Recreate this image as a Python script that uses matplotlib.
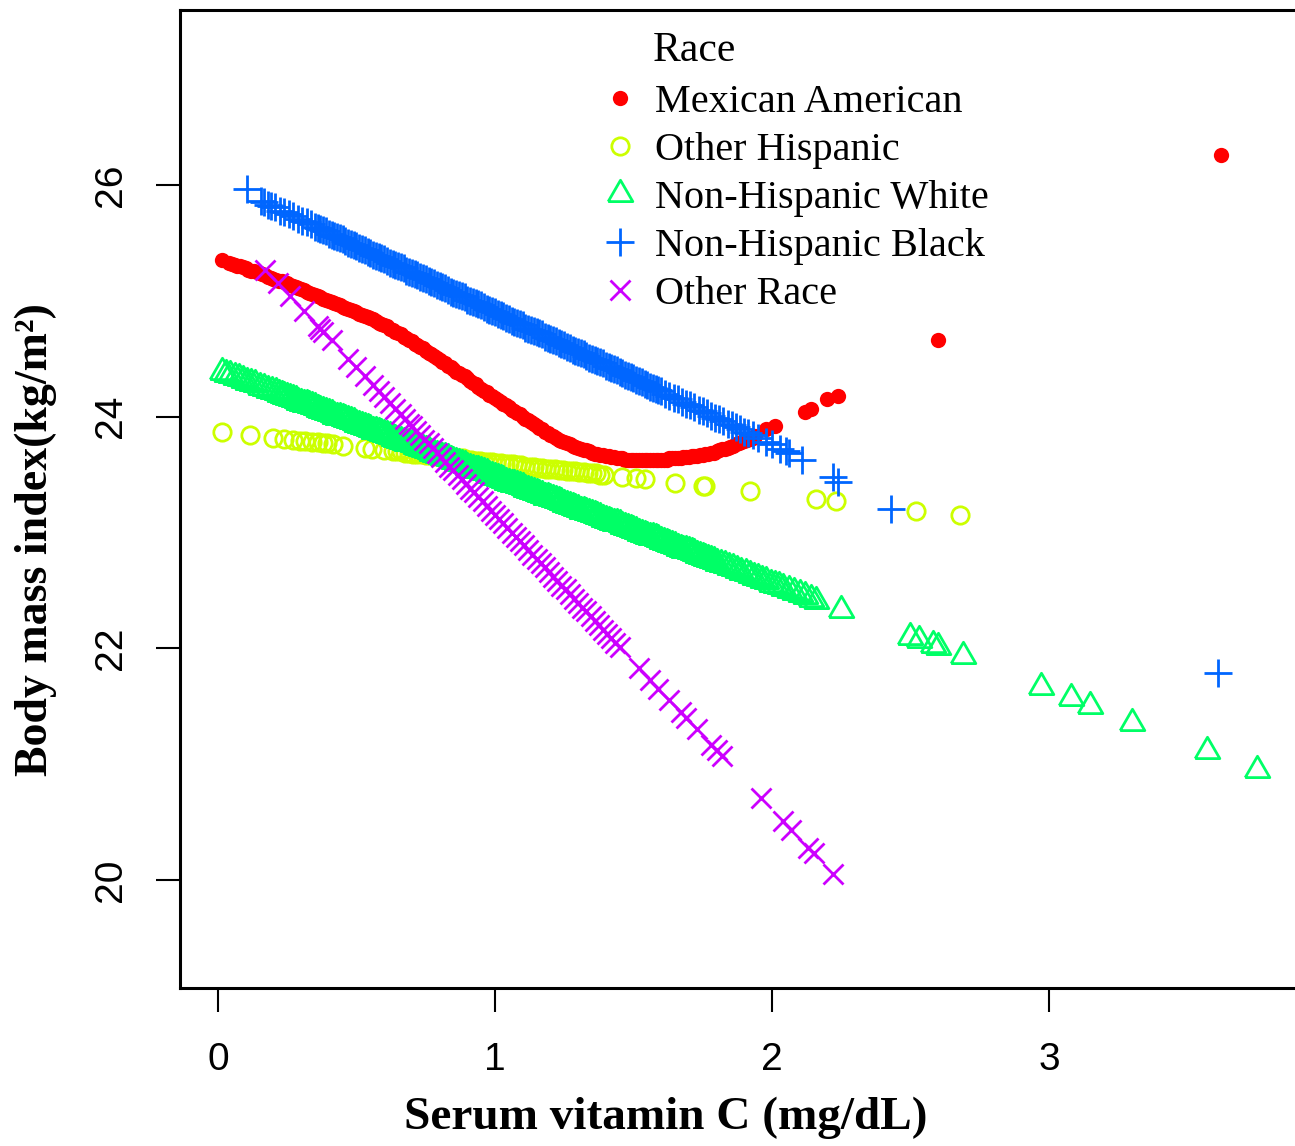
import numpy as np
import matplotlib
matplotlib.use('Agg')
import matplotlib.pyplot as plt
from matplotlib.lines import Line2D

races = ["Mexican American", "Other Hispanic", "Non-Hispanic White",
         "Non-Hispanic Black", "Other Race"]
colors = ["#FF0000", "#CCFF00", "#00FF66", "#0066FF", "#CC00FF"]

# Mexican American
mex_x = [0.015,
         0.04, 0.05, 0.06, 0.07, 0.08, 0.09, 0.10,
         0.11, 0.12, 0.13, 0.14, 0.15, 0.16, 0.17, 0.18, 0.19, 0.20,
         0.21, 0.22, 0.23, 0.24, 0.25, 0.26, 0.27, 0.28, 0.29, 0.30,
         0.31, 0.32, 0.33, 0.34, 0.35, 0.36, 0.37, 0.38, 0.39, 0.40,
         0.41, 0.42, 0.43, 0.44, 0.45, 0.46, 0.47, 0.48, 0.49, 0.50,
         0.51, 0.52, 0.53, 0.54, 0.55, 0.56, 0.57, 0.58, 0.59, 0.60,
         0.61, 0.62, 0.63, 0.64, 0.65, 0.66, 0.67, 0.68, 0.69, 0.70,
         0.71, 0.72, 0.73, 0.74, 0.75, 0.76, 0.77, 0.78, 0.79, 0.80,
         0.81, 0.82, 0.83, 0.84, 0.85, 0.86, 0.87, 0.88, 0.89, 0.90,
         0.91, 0.92, 0.93, 0.94, 0.95, 0.96, 0.97, 0.98, 0.99, 1.00,
         1.01, 1.02, 1.03, 1.04, 1.05, 1.06, 1.07, 1.08, 1.09, 1.10,
         1.11, 1.12, 1.13, 1.14, 1.15, 1.16, 1.17, 1.18, 1.19, 1.20,
         1.21, 1.22, 1.23, 1.24, 1.25, 1.26, 1.27, 1.28, 1.29, 1.30,
         1.31, 1.32, 1.33, 1.34, 1.35, 1.36, 1.37, 1.38, 1.39, 1.40,
         1.41, 1.42, 1.43, 1.44, 1.45, 1.46, 1.47, 1.48, 1.49, 1.50,
         1.51, 1.52, 1.53, 1.54, 1.55, 1.56, 1.57, 1.58, 1.59, 1.60,
         1.61, 1.62, 1.63, 1.64, 1.65, 1.66, 1.67, 1.68, 1.69, 1.70,
         1.71, 1.72, 1.73, 1.74, 1.75, 1.76, 1.77, 1.78, 1.79, 1.80,
         1.81, 1.82, 1.83, 1.84, 1.85, 1.86, 1.87, 1.88, 1.89, 1.90,
         1.91, 1.92, 1.93, 1.94,
         1.98, 2.01, 2.12, 2.14, 2.20, 2.24, 2.60, 3.62]
mex_y = [25.35,
         25.33, 25.32, 25.31, 25.30, 25.30, 25.29, 25.28,
         25.27, 25.26, 25.26, 25.25, 25.24, 25.23, 25.22, 25.21, 25.20, 25.19,
         25.18, 25.17, 25.17, 25.16, 25.15, 25.14, 25.13, 25.12, 25.11, 25.10,
         25.09, 25.08, 25.07, 25.06, 25.05, 25.04, 25.03, 25.02, 25.01, 25.00,
         24.99, 24.98, 24.97, 24.96, 24.95, 24.94, 24.93, 24.92, 24.91, 24.90,
         24.89, 24.88, 24.87, 24.86, 24.85, 24.84, 24.83, 24.81, 24.80, 24.79,
         24.78, 24.76, 24.75, 24.73, 24.72, 24.71, 24.69, 24.68, 24.66, 24.65,
         24.63, 24.62, 24.60, 24.59, 24.57, 24.55, 24.54, 24.52, 24.51, 24.49,
         24.47, 24.46, 24.44, 24.43, 24.41, 24.39, 24.38, 24.36, 24.35, 24.33,
         24.31, 24.29, 24.28, 24.26, 24.24, 24.22, 24.21, 24.19, 24.18, 24.16,
         24.14, 24.13, 24.11, 24.10, 24.08, 24.06, 24.05, 24.03, 24.02, 24.00,
         23.98, 23.97, 23.95, 23.94, 23.92, 23.90, 23.89, 23.87, 23.86, 23.84,
         23.83, 23.82, 23.80, 23.79, 23.78, 23.77, 23.76, 23.75, 23.74, 23.73,
         23.72, 23.71, 23.71, 23.70, 23.69, 23.68, 23.68, 23.67, 23.67, 23.66,
         23.66, 23.65, 23.65, 23.64, 23.64, 23.64, 23.63, 23.63, 23.63, 23.63,
         23.63, 23.63, 23.63, 23.63, 23.63, 23.63, 23.63, 23.63, 23.63, 23.63,
         23.63, 23.63, 23.64, 23.64, 23.64, 23.64, 23.64, 23.65, 23.65, 23.65,
         23.66, 23.66, 23.66, 23.67, 23.67, 23.68, 23.68, 23.69, 23.69, 23.70,
         23.71, 23.72, 23.72, 23.73, 23.74, 23.75, 23.76, 23.77, 23.78, 23.79,
         23.80, 23.81, 23.82, 23.83,
         23.89, 23.92, 24.04, 24.07, 24.15, 24.18, 24.66, 26.26]

# Other Hispanic
oth_x = [0.015, 0.115, 0.20, 0.24, 0.27, 0.295, 0.315, 0.34, 0.36, 0.38,
         0.395, 0.415, 0.45, 0.53, 0.555, 0.60,
         0.63, 0.645, 0.66, 0.675, 0.69, 0.705, 0.72, 0.735, 0.75, 0.765,
         0.78, 0.795, 0.81, 0.825, 0.84, 0.855, 0.87, 0.885, 0.90, 0.915,
         0.93, 0.945, 0.96, 0.975, 0.99, 1.005, 1.02, 1.035, 1.05, 1.065,
         1.08, 1.095, 1.11, 1.125, 1.14, 1.155, 1.17, 1.185, 1.20, 1.215,
         1.23, 1.245, 1.26, 1.275, 1.29, 1.305, 1.32, 1.335, 1.35, 1.365,
         1.38, 1.395,
         1.46, 1.51, 1.54, 1.65, 1.75, 1.76, 1.92, 2.16, 2.23, 2.52, 2.68]
oth_y = [23.87, 23.84, 23.82, 23.81, 23.80, 23.79, 23.79, 23.78, 23.78, 23.77,
         23.77, 23.76, 23.75, 23.73, 23.72, 23.71,
         23.70, 23.70, 23.70, 23.69, 23.69, 23.68, 23.68, 23.68, 23.67, 23.67,
         23.66, 23.66, 23.66, 23.65, 23.65, 23.64, 23.64, 23.64, 23.63, 23.63,
         23.62, 23.62, 23.61, 23.61, 23.61, 23.60, 23.60, 23.59, 23.59, 23.59,
         23.58, 23.58, 23.57, 23.57, 23.57, 23.56, 23.56, 23.55, 23.55, 23.55,
         23.54, 23.54, 23.53, 23.53, 23.53, 23.52, 23.52, 23.51, 23.51, 23.51,
         23.50, 23.50,
         23.48, 23.47, 23.46, 23.43, 23.40, 23.40, 23.36, 23.29, 23.27, 23.19, 23.15]

# Non-Hispanic White
whi_x = [0.015, 0.03, 0.045, 0.06, 0.075, 0.09, 0.105, 0.12, 0.135, 0.15,
         0.165, 0.18, 0.195,
         0.21, 0.22, 0.23, 0.24, 0.25, 0.26, 0.27, 0.28, 0.29, 0.30,
         0.31, 0.32, 0.33, 0.34, 0.35, 0.36, 0.37, 0.38, 0.39, 0.40,
         0.41, 0.42, 0.43, 0.44, 0.45, 0.46, 0.47, 0.48, 0.49, 0.50,
         0.51, 0.52, 0.53, 0.54, 0.55, 0.56, 0.57, 0.58, 0.59, 0.60,
         0.61, 0.62, 0.63, 0.64, 0.65, 0.66, 0.67, 0.68, 0.69, 0.70,
         0.71, 0.72, 0.73, 0.74, 0.75, 0.76, 0.77, 0.78, 0.79, 0.80,
         0.81, 0.82, 0.83, 0.84, 0.85, 0.86, 0.87, 0.88, 0.89, 0.90,
         0.91, 0.92, 0.93, 0.94, 0.95, 0.96, 0.97, 0.98, 0.99, 1.00,
         1.01, 1.02, 1.03, 1.04, 1.05, 1.06, 1.07, 1.08, 1.09, 1.10,
         1.11, 1.12, 1.13, 1.14, 1.15, 1.16, 1.17, 1.18, 1.19, 1.20,
         1.21, 1.22, 1.23, 1.24, 1.25, 1.26, 1.27, 1.28, 1.29, 1.30,
         1.31, 1.32, 1.33, 1.34, 1.35, 1.36, 1.37, 1.38, 1.39, 1.40,
         1.41, 1.42, 1.43, 1.44, 1.45, 1.46, 1.47, 1.48, 1.49, 1.50,
         1.51, 1.52, 1.53, 1.54, 1.55, 1.56, 1.57, 1.58, 1.59, 1.60,
         1.61, 1.62, 1.63, 1.64, 1.65, 1.66, 1.67, 1.68, 1.69, 1.70,
         1.71, 1.72, 1.73, 1.74, 1.75, 1.76, 1.77, 1.78, 1.79, 1.80,
         1.815, 1.83, 1.845, 1.86, 1.875, 1.89, 1.905, 1.92, 1.935, 1.95,
         1.965, 1.98, 1.995, 2.01, 2.025, 2.04, 2.06, 2.08, 2.10, 2.12,
         2.14, 2.16,
         2.25, 2.50, 2.53, 2.58, 2.60, 2.69, 2.97, 3.08, 3.15, 3.30, 3.57, 3.75]
whi_y = [24.39, 24.37, 24.36, 24.34, 24.33, 24.32, 24.30, 24.29, 24.28, 24.26,
         24.25, 24.23, 24.22,
         24.21, 24.20, 24.19, 24.18, 24.17, 24.16, 24.15, 24.14, 24.13, 24.12,
         24.11, 24.11, 24.10, 24.09, 24.08, 24.07, 24.06, 24.05, 24.04, 24.03,
         24.02, 24.01, 24.00, 24.00, 23.99, 23.98, 23.97, 23.96, 23.95, 23.94,
         23.93, 23.92, 23.91, 23.90, 23.89, 23.88, 23.88, 23.87, 23.86, 23.85,
         23.84, 23.83, 23.82, 23.81, 23.80, 23.79, 23.78, 23.77, 23.77, 23.76,
         23.75, 23.74, 23.73, 23.72, 23.71, 23.70, 23.69, 23.68, 23.67, 23.66,
         23.65, 23.65, 23.64, 23.63, 23.62, 23.61, 23.60, 23.59, 23.58, 23.57,
         23.56, 23.55, 23.54, 23.54, 23.53, 23.52, 23.51, 23.50, 23.49, 23.48,
         23.47, 23.46, 23.45, 23.44, 23.43, 23.42, 23.42, 23.41, 23.40, 23.39,
         23.38, 23.37, 23.36, 23.35, 23.34, 23.33, 23.32, 23.31, 23.31, 23.30,
         23.29, 23.28, 23.27, 23.26, 23.25, 23.24, 23.23, 23.22, 23.21, 23.20,
         23.19, 23.19, 23.18, 23.17, 23.16, 23.15, 23.14, 23.13, 23.12, 23.11,
         23.10, 23.09, 23.08, 23.08, 23.07, 23.06, 23.05, 23.04, 23.03, 23.02,
         23.01, 23.00, 22.99, 22.98, 22.97, 22.96, 22.96, 22.95, 22.94, 22.93,
         22.92, 22.91, 22.90, 22.89, 22.88, 22.87, 22.86, 22.85, 22.85, 22.84,
         22.83, 22.82, 22.81, 22.80, 22.79, 22.78, 22.77, 22.76, 22.75, 22.74,
         22.73, 22.72, 22.70, 22.69, 22.68, 22.66, 22.65, 22.63, 22.62, 22.61,
         22.59, 22.58, 22.56, 22.55, 22.54, 22.52, 22.50, 22.49, 22.47, 22.45,
         22.43, 22.41,
         22.33, 22.10, 22.07, 22.03, 22.01, 21.93, 21.67, 21.57, 21.50, 21.36, 21.11, 20.95]

# Non-Hispanic Black
blk_x = [0.105, 0.155, 0.165, 0.18, 0.19, 0.205, 0.225, 0.24, 0.255, 0.27,
         0.29, 0.305, 0.32, 0.335, 0.35,
         0.36, 0.37, 0.38, 0.39, 0.40, 0.41, 0.42, 0.43, 0.44, 0.45,
         0.46, 0.47, 0.48, 0.49, 0.50, 0.51, 0.52, 0.53, 0.54, 0.55,
         0.56, 0.57, 0.58, 0.59, 0.60, 0.61, 0.62, 0.63, 0.64, 0.65,
         0.66, 0.67, 0.68, 0.69, 0.70, 0.71, 0.72, 0.73, 0.74, 0.75,
         0.76, 0.77, 0.78, 0.79, 0.80, 0.81, 0.82, 0.83, 0.84, 0.85,
         0.86, 0.87, 0.88, 0.89, 0.90, 0.91, 0.92, 0.93, 0.94, 0.95,
         0.96, 0.97, 0.98, 0.99, 1.00, 1.01, 1.02, 1.03, 1.04, 1.05,
         1.06, 1.07, 1.08, 1.09, 1.10, 1.11, 1.12, 1.13, 1.14, 1.15,
         1.16, 1.17, 1.18, 1.19, 1.20, 1.21, 1.22, 1.23, 1.24, 1.25,
         1.26, 1.27, 1.28, 1.29, 1.30, 1.31, 1.32, 1.33, 1.34, 1.35,
         1.36, 1.37, 1.38, 1.39, 1.40, 1.41, 1.42, 1.43, 1.44, 1.45,
         1.46, 1.47, 1.48, 1.49, 1.50, 1.51, 1.52, 1.53, 1.54, 1.55,
         1.56, 1.57, 1.58, 1.59, 1.60,
         1.615, 1.63, 1.645, 1.66, 1.675, 1.69, 1.705, 1.72, 1.735, 1.75,
         1.765, 1.78, 1.795, 1.81, 1.825, 1.84, 1.855, 1.87, 1.885, 1.90,
         1.915,
         1.93, 1.95, 1.98, 2.00, 2.03, 2.05, 2.06, 2.11, 2.22, 2.24, 2.43, 3.61]
blk_y = [25.97, 25.86, 25.85, 25.83, 25.82, 25.81, 25.78, 25.77, 25.75, 25.73,
         25.71, 25.69, 25.68, 25.66, 25.64,
         25.63, 25.62, 25.61, 25.60, 25.58, 25.57, 25.56, 25.55, 25.54, 25.53,
         25.52, 25.50, 25.49, 25.48, 25.47, 25.46, 25.45, 25.44, 25.42, 25.41,
         25.40, 25.39, 25.38, 25.37, 25.36, 25.34, 25.33, 25.32, 25.31, 25.30,
         25.29, 25.28, 25.26, 25.25, 25.24, 25.23, 25.22, 25.21, 25.20, 25.19,
         25.17, 25.16, 25.15, 25.14, 25.13, 25.12, 25.11, 25.09, 25.08, 25.07,
         25.06, 25.05, 25.04, 25.03, 25.01, 25.00, 24.99, 24.98, 24.97, 24.96,
         24.95, 24.93, 24.92, 24.91, 24.90, 24.89, 24.88, 24.87, 24.85, 24.84,
         24.83, 24.82, 24.81, 24.80, 24.79, 24.77, 24.76, 24.75, 24.74, 24.73,
         24.72, 24.71, 24.69, 24.68, 24.67, 24.66, 24.65, 24.64, 24.63, 24.62,
         24.60, 24.59, 24.58, 24.57, 24.56, 24.55, 24.54, 24.52, 24.51, 24.50,
         24.49, 24.48, 24.47, 24.46, 24.44, 24.43, 24.42, 24.41, 24.40, 24.39,
         24.38, 24.36, 24.35, 24.34, 24.33, 24.32, 24.31, 24.30, 24.28, 24.27,
         24.26, 24.25, 24.24, 24.23, 24.22,
         24.20, 24.18, 24.16, 24.15, 24.13, 24.11, 24.10, 24.08, 24.06, 24.05,
         24.03, 24.01, 23.99, 23.98, 23.96, 23.94, 23.93, 23.91, 23.89, 23.87,
         23.86,
         23.84, 23.82, 23.78, 23.76, 23.72, 23.70, 23.69, 23.63, 23.48, 23.44, 23.20, 21.79]

# Other Race
orc_x = [0.17, 0.215, 0.26, 0.31, 0.36, 0.37, 0.38, 0.41, 0.47, 0.50,
         0.53, 0.56, 0.58, 0.60, 0.62, 0.64, 0.66, 0.675, 0.69,
         0.70, 0.715, 0.73, 0.745, 0.76, 0.775, 0.79, 0.805, 0.82, 0.835,
         0.85, 0.865, 0.88, 0.895, 0.91, 0.925, 0.94, 0.955, 0.97, 0.985,
         1.00, 1.015, 1.03, 1.045, 1.06, 1.075, 1.09, 1.105, 1.12, 1.135,
         1.15, 1.165, 1.18, 1.195, 1.21, 1.225, 1.24, 1.255, 1.27, 1.285,
         1.30, 1.315, 1.33, 1.345, 1.36, 1.375, 1.39, 1.405, 1.42, 1.435,
         1.45,
         1.52, 1.56, 1.59, 1.63, 1.67, 1.69, 1.73, 1.78, 1.80, 1.82,
         1.96, 2.04, 2.07, 2.13, 2.15, 2.22]
orc_y = [25.27, 25.15, 25.04, 24.91, 24.78, 24.76, 24.73, 24.66, 24.50, 24.43,
         24.35, 24.27, 24.22, 24.17, 24.12, 24.07, 24.02, 23.98, 23.94,
         23.92, 23.88, 23.84, 23.80, 23.77, 23.73, 23.69, 23.65, 23.61, 23.57,
         23.54, 23.50, 23.46, 23.42, 23.38, 23.35, 23.31, 23.27, 23.23, 23.19,
         23.15, 23.12, 23.08, 23.04, 23.00, 22.96, 22.93, 22.89, 22.85, 22.81,
         22.77, 22.74, 22.70, 22.66, 22.62, 22.58, 22.54, 22.51, 22.47, 22.43,
         22.39, 22.35, 22.32, 22.28, 22.24, 22.20, 22.16, 22.12, 22.09, 22.05,
         22.01,
         21.83, 21.73, 21.65, 21.55, 21.45, 21.40, 21.30, 21.17, 21.12, 21.07,
         20.71, 20.51, 20.43, 20.28, 20.23, 20.05]

serif = ['Liberation Serif', 'DejaVu Serif']
plt.rcParams['font.family'] = ['Liberation Sans', 'DejaVu Sans']

tri = [(-1, -0.577), (1, -0.577), (0, 1.155), (-1, -0.577)]
styles = [
    dict(marker='o', ms=11, mew=0, mfc=colors[0]),
    dict(marker='o', ms=12.5, mew=2.0, mfc='none'),
    dict(marker=tri, ms=20.5, mew=2.0, mfc='none'),
    dict(marker='+', ms=20, mew=2.0),
    dict(marker='x', ms=14.5, mew=2.0),
]
series = [(mex_x, mex_y), (oth_x, oth_y), (whi_x, whi_y),
          (blk_x, blk_y), (orc_x, orc_y)]

fig = plt.figure(figsize=(12.95, 11.46), dpi=100)
ax = fig.add_axes([180 / 1295, 1 - 988 / 1146, 1121 / 1295, 978 / 1146])

for (xs, ys), col, st in zip(series, colors, styles):
    ax.plot(xs, ys, ls='none', color=col, mec=col, **st)

ax.set_xlim(-0.1372, 3.910)
ax.set_ylim(19.068, 27.511)
ax.set_xticks([0, 1, 2, 3])
ax.set_yticks([20, 22, 24, 26])
for sp in ax.spines.values():
    sp.set_linewidth(2.2)
ax.tick_params(axis='both', length=17, width=1.5, labelsize=28)
ax.tick_params(axis='x', pad=22)
ax.tick_params(axis='y', pad=20, labelrotation=90)
for lab in ax.get_yticklabels():
    lab.set_verticalalignment('center')

fig.text(666 / 1295, 1 - 1129 / 1146, "Serum vitamin C (mg/dL)",
         ha='center', va='baseline', fontsize=34, fontweight='bold', family=serif)
fig.text(36 / 1295, 1 - 540 / 1146, "Body mass index(kg/m²)", rotation=90,
         ha='center', va='center', fontsize=33, fontweight='bold', family=serif)

handles = [Line2D([], [], ls='none', color=c, mec=c, **st)
           for c, st in zip(colors, styles)]
ax.legend(handles, races, loc='upper left',
          bbox_to_anchor=(600 / 1295, 1 - 84 / 1146), bbox_transform=fig.transFigure,
          frameon=False, borderpad=0, borderaxespad=0, handlelength=1.0,
          handletextpad=0.375, labelspacing=0.27,
          prop=dict(family=serif, size=29))
fig.text(653 / 1295, 1 - 51 / 1146, "Race", ha='left', va='center',
         fontsize=30, family=serif)

fig.savefig('out.png', dpi=100)
